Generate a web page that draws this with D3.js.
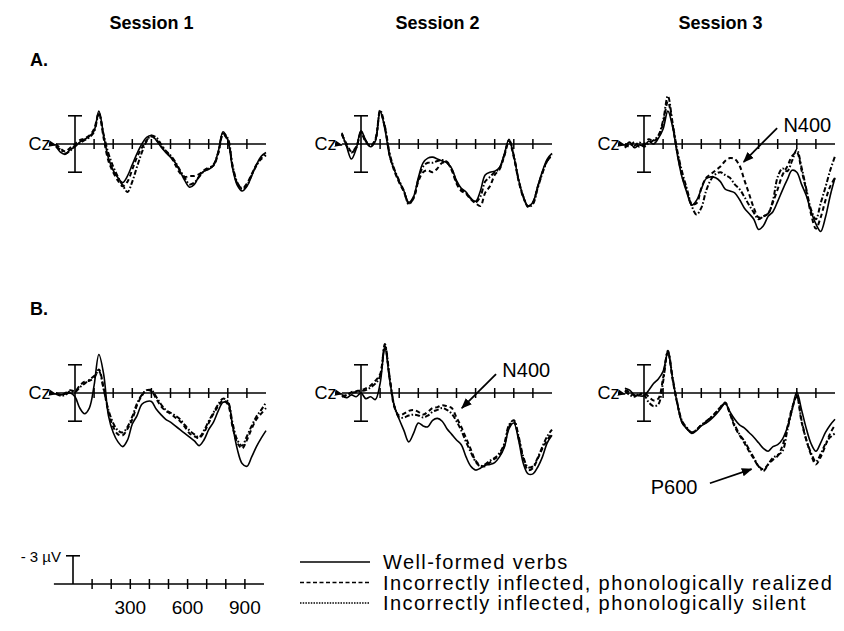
<!DOCTYPE html>
<html>
<head>
<meta charset="utf-8">
<script src="https://cdn.jsdelivr.net/npm/d3@7"></script>
<style>
  body { margin: 0; background: #fff; }
  svg { display: block; font-family: 'Liberation Sans', Arial, sans-serif; }
</style>
</head>
<body>
<div id="chart"></div>
<script>
// column titles, row labels and the three conditions
const sessions = ['Session 1', 'Session 2', 'Session 3'];
const rowLabels = ['A.', 'B.'];
const conditions = [
  'Well-formed verbs',
  'Incorrectly inflected, phonologically realized',
  'Incorrectly inflected, phonologically silent',
];

// sample times in ms (shared by every waveform)
const times = [
  -100, -75, -50, -25, 0, 25, 50, 75, 100, 125, 150, 175, 200, 225, 250,
  275, 300, 325, 350, 375, 400, 425, 450, 475, 500, 525, 550, 575, 600,
  625, 650, 675, 700, 725, 750, 775, 800, 825, 850, 875, 900, 925, 950,
  975, 1000,
];

// amplitudes in microvolts, negative plotted up
// Row A, Session 1
const a1Well = [0.2, 0.9, 1.1, 0.6, 0.3, -0.2, -0.5, -0.8, -1.4, -3.5, -0.9, 1.5, 2.8, 3.6, 4.1, 3.4, 2.2, 1.0, 0.0, -0.7, -0.9, -0.4, 0.3, 0.9, 1.4, 2.0, 2.9, 3.9, 4.6, 4.3, 3.4, 2.9, 2.7, 2.3, 0.8, -1.3, -0.4, 2.6, 4.4, 5.0, 4.5, 3.4, 2.2, 1.3, 0.9];
const a1Realized = [0.0, 0.5, 0.8, 0.4, 0.0, -0.4, -0.6, -0.9, -1.6, -3.3, -0.6, 1.8, 3.0, 3.9, 4.5, 4.0, 2.7, 1.4, 0.4, -0.4, -0.8, -0.5, 0.2, 0.8, 1.3, 2.2, 3.1, 3.5, 3.4, 3.4, 3.2, 2.8, 2.5, 2.3, 1.0, -1.0, -0.4, 2.4, 4.2, 4.7, 4.2, 3.2, 2.2, 1.6, 1.2];
const a1Silent = [0.3, 0.6, 1.0, 0.7, 0.2, -0.1, -0.4, -0.7, -1.3, -3.2, -1.0, 1.0, 2.4, 3.5, 4.4, 5.1, 4.0, 2.4, 0.9, -0.3, -0.9, -0.7, 0.0, 0.7, 1.2, 1.9, 2.8, 3.6, 4.3, 4.1, 3.5, 2.9, 2.6, 2.2, 0.9, -1.1, -0.6, 2.3, 4.1, 4.8, 4.4, 3.3, 2.3, 1.5, 1.0];
// Row A, Session 2
const a2Well = [-1.2, 0.3, 1.6, 0.5, -1.4, -0.4, 0.3, -0.3, -3.5, -1.6, 1.3, 2.8, 4.0, 5.0, 6.2, 5.6, 3.6, 2.0, 1.5, 1.4, 1.6, 1.8, 2.0, 2.6, 3.9, 4.7, 5.1, 5.8, 6.1, 5.0, 3.3, 3.0, 2.9, 2.5, 1.1, -0.5, 1.3, 3.8, 5.6, 6.6, 6.2, 4.5, 2.9, 1.6, 1.0];
const a2Realized = [-1.0, 0.0, 0.8, 0.3, -1.2, -0.2, 0.2, -0.5, -3.4, -1.8, 1.2, 2.9, 4.1, 5.1, 6.3, 5.8, 4.0, 3.0, 2.8, 3.0, 2.6, 2.0, 2.0, 2.8, 4.2, 5.0, 5.3, 5.9, 6.3, 6.6, 5.2, 4.5, 3.3, 2.7, 1.3, -0.3, 1.4, 3.9, 5.7, 6.6, 6.2, 4.6, 3.0, 1.8, 1.2];
const a2Silent = [-1.1, 0.2, 0.9, 0.4, -1.3, -0.3, 0.2, -0.4, -3.6, -1.9, 1.0, 2.7, 3.9, 5.0, 6.4, 5.7, 3.8, 2.4, 2.0, 2.0, 1.8, 1.7, 1.9, 2.7, 4.0, 4.8, 5.2, 5.8, 6.2, 5.6, 4.0, 3.5, 3.0, 2.6, 1.2, -0.4, 1.2, 3.8, 5.6, 6.7, 6.4, 4.7, 3.1, 1.8, 1.1];
// Row A, Session 3
const a3Well = [0.3, -0.2, 0.4, 0.1, 0.2, -0.3, 0.0, -0.6, -1.6, -3.5, -1.8, 1.2, 3.6, 5.2, 6.5, 6.0, 4.8, 3.7, 3.5, 3.6, 4.0, 4.8, 5.0, 5.2, 5.9, 6.8, 7.4, 8.0, 9.1, 8.7, 7.7, 7.2, 6.1, 4.9, 3.8, 2.8, 3.0, 4.3, 5.5, 7.2, 8.5, 9.3, 7.8, 5.5, 3.6];
const a3Realized = [0.0, 0.3, -0.2, 0.3, 0.0, -0.5, -0.3, -0.8, -2.2, -4.5, -2.0, 1.0, 3.4, 5.0, 6.4, 6.3, 4.7, 3.6, 3.2, 2.8, 2.4, 1.8, 1.5, 1.6, 2.3, 3.8, 5.3, 6.8, 7.8, 7.7, 7.4, 6.2, 4.8, 3.3, 2.4, 1.3, 0.9, 2.8, 5.0, 7.5, 9.0, 7.8, 6.0, 4.5, 3.6];
const a3Silent = [0.4, 0.0, 0.2, -0.2, 0.3, -0.1, -0.4, -0.9, -2.5, -5.1, -2.2, 0.8, 3.0, 4.8, 6.6, 7.5, 6.8, 5.0, 3.8, 3.2, 3.0, 3.3, 3.6, 4.3, 4.8, 5.6, 6.5, 7.3, 8.0, 7.7, 7.4, 6.0, 3.5, 2.6, 2.9, 1.8, 0.6, 2.5, 4.8, 7.0, 8.0, 6.3, 4.6, 2.8, 1.3];
// Row B, Session 1
const b1Well = [0.0, 0.2, 0.1, 0.0, 0.4, 1.6, 2.2, 1.6, -0.8, -4.1, -2.0, 2.4, 4.2, 5.2, 5.7, 5.0, 3.3, 2.4, 1.2, 0.9, 0.9, 1.7, 2.3, 2.8, 3.1, 3.5, 3.9, 4.3, 4.7, 5.1, 5.6, 5.0, 3.9, 3.1, 1.9, 1.0, 1.0, 3.5, 6.0, 7.5, 7.8, 6.8, 5.7, 4.8, 4.0];
const b1Realized = [0.0, 0.2, 0.0, -0.3, -0.2, -0.8, -1.2, -1.3, -1.6, -2.5, -0.5, 2.0, 3.6, 4.4, 4.5, 3.8, 2.8, 1.3, 0.3, -0.3, -0.2, 0.6, 1.4, 1.9, 2.2, 2.6, 3.0, 3.6, 4.3, 4.6, 4.8, 4.2, 3.2, 2.2, 1.4, 0.8, 1.2, 3.6, 5.3, 5.9, 5.0, 3.8, 2.8, 2.2, 1.6];
const b1Silent = [0.1, 0.3, 0.2, -0.2, -0.1, -0.6, -1.0, -1.4, -1.8, -2.3, -0.4, 1.8, 3.2, 4.0, 4.2, 3.6, 2.5, 1.1, 0.2, -0.3, -0.3, 0.4, 1.2, 1.8, 2.1, 2.4, 2.8, 3.4, 4.0, 4.4, 4.7, 4.0, 3.0, 2.1, 1.2, 0.6, 0.9, 3.2, 5.0, 5.6, 4.6, 3.5, 2.5, 1.8, 1.0];
// Row B, Session 2
const b2Well = [0.3, 0.5, 0.2, 0.4, 0.0, 0.6, 0.4, 0.7, -1.0, -4.8, -1.4, 1.4, 2.8, 4.0, 5.2, 4.3, 3.2, 3.5, 3.6, 2.9, 2.7, 3.0, 3.8, 4.4, 5.0, 5.5, 6.8, 7.8, 8.2, 8.0, 7.7, 7.6, 7.4, 6.8, 5.8, 3.8, 3.2, 5.0, 7.5, 8.6, 8.6, 7.9, 6.8, 5.3, 4.5];
const b2Realized = [0.2, 0.3, -0.1, -0.2, -0.3, -0.5, -0.8, -1.3, -2.0, -5.0, -1.6, 1.5, 2.4, 2.2, 1.9, 1.8, 2.0, 2.3, 2.0, 1.6, 1.5, 1.3, 1.4, 1.6, 2.6, 3.6, 4.8, 6.0, 7.2, 7.7, 7.8, 7.4, 7.0, 6.6, 5.6, 3.6, 3.0, 4.8, 7.0, 8.2, 8.0, 7.0, 5.9, 5.0, 4.3];
const b2Silent = [0.4, 0.2, 0.0, -0.1, -0.2, -0.3, -0.6, -1.0, -1.8, -5.2, -1.7, 1.4, 2.6, 2.6, 2.4, 2.3, 2.4, 2.6, 2.4, 2.0, 1.8, 1.6, 1.8, 2.2, 3.0, 4.0, 5.2, 6.3, 7.3, 7.8, 7.6, 7.2, 6.9, 6.4, 5.4, 3.4, 2.9, 4.6, 6.8, 7.9, 7.8, 6.9, 5.7, 4.6, 3.9];
// Row B, Session 3
const b3Well = [-0.5, -0.3, 0.2, 0.3, 0.3, -0.3, -1.0, -1.5, -2.3, -4.3, -1.5, 1.2, 3.2, 3.8, 4.3, 4.0, 3.5, 3.2, 2.8, 2.3, 1.7, 1.1, 2.0, 2.8, 3.4, 3.7, 4.2, 4.7, 5.3, 5.9, 6.2, 5.7, 5.5, 4.9, 3.7, 1.8, -0.1, 1.8, 3.8, 5.4, 6.2, 5.3, 4.2, 3.4, 2.8];
const b3Realized = [-0.3, -0.1, 0.3, 0.2, 0.0, 0.4, 0.8, 0.6, -1.6, -4.4, -1.4, 1.2, 3.1, 3.8, 4.2, 3.9, 3.4, 3.1, 2.6, 2.1, 1.5, 1.0, 2.2, 3.6, 4.5, 5.3, 6.2, 7.0, 7.8, 8.1, 7.6, 7.1, 6.7, 5.6, 3.7, 1.6, 0.4, 3.1, 5.0, 6.6, 7.6, 6.8, 5.6, 4.3, 3.4];
const b3Silent = [-0.2, 0.2, 0.4, 0.1, 0.2, 1.0, 1.4, 1.2, -1.2, -4.5, -1.6, 1.1, 3.0, 3.7, 4.2, 3.9, 3.4, 3.0, 2.6, 2.1, 1.5, 1.1, 2.2, 3.4, 4.4, 5.1, 6.0, 6.9, 7.8, 8.3, 7.6, 6.9, 6.6, 6.2, 4.0, 1.8, 0.3, 2.9, 5.0, 6.4, 7.3, 6.5, 5.4, 4.7, 4.3];

// axis ticks (ms) and the labelled ones on the calibration axis
const tickTimes = [100, 200, 300, 400, 500, 600, 700, 800, 900];
const tickLabels = [300, 600, 900];

// component annotations: label text, arrow start and tip in (ms, µV)
const annotations = [
  { row: 0, col: 2, text: 'N400', labelT: 730, labelV: -2.0, fromT: 697, fromV: -1.7, toT: 522, toV: 1.9 },
  { row: 1, col: 1, text: 'N400', labelT: 740, labelV: -2.4, fromT: 707, fromV: -2.0, toT: 528, toV: 1.6 },
  { row: 1, col: 2, text: 'P600', labelT: 35, labelV: 10.0, fromT: 345, fromV: 9.6, toT: 563, toV: 8.1 },
];

const waves = [
  [[a1Well, a1Realized, a1Silent], [a2Well, a2Realized, a2Silent], [a3Well, a3Realized, a3Silent]],
  [[b1Well, b1Realized, b1Silent], [b2Well, b2Realized, b2Silent], [b3Well, b3Realized, b3Silent]],
];

class ErpFigure {
  constructor(_config) {
    this.config = {
      parentElement: _config.parentElement,
      containerWidth: 844,
      containerHeight: 631,
      colZero: [75, 361, 644], // x of 0 ms in each column
      rowBase: [144, 393], // y of 0 µV in each row
      msWidth: 191, // px for 1000 ms
      uvHeight: 28.2, // px for 3 µV
    };
    this.initVis();
  }

  initVis() {
    const vis = this;
    const c = vis.config;

    vis.svg = d3
      .select(c.parentElement)
      .append('svg')
      .attr('width', c.containerWidth)
      .attr('height', c.containerHeight);

    vis.svg.append('rect').attr('width', c.containerWidth).attr('height', c.containerHeight).attr('fill', '#fff');

    // arrowhead for the Cz pointers and annotations
    vis.svg
      .append('defs')
      .append('marker')
      .attr('id', 'head')
      .attr('viewBox', '0 0 10 10')
      .attr('refX', 9)
      .attr('refY', 5)
      .attr('markerWidth', 6)
      .attr('markerHeight', 6)
      .attr('orient', 'auto')
      .append('path')
      .attr('d', 'M0,1 L10,5 L0,9 z')
      .attr('fill', '#000');

    vis.x = d3.scaleLinear().domain([0, 1000]).range([0, c.msWidth]);
    vis.y = d3.scaleLinear().domain([-3, 3]).range([-c.uvHeight, c.uvHeight]);

    vis.line = d3
      .line()
      .x((d) => vis.x(d[0]))
      .y((d) => vis.y(d[1]))
      .curve(d3.curveCatmullRom.alpha(0.5));

    vis.dashes = [null, '4.5,3', '5,2,1.6,2'];

    vis.renderVis();
  }

  renderVis() {
    const vis = this;
    const c = vis.config;

    // session titles
    vis.svg
      .selectAll('.session')
      .data(sessions)
      .join('text')
      .attr('class', 'session')
      .attr('x', (d, i) => c.colZero[i] + vis.x(400))
      .attr('y', 29)
      .attr('text-anchor', 'middle')
      .attr('font-size', 18)
      .attr('font-weight', 'bold')
      .text((d) => d);

    vis.svg
      .selectAll('.row-label')
      .data(rowLabels)
      .join('text')
      .attr('class', 'row-label')
      .attr('x', 30)
      .attr('y', (d, i) => c.rowBase[i] - 78)
      .attr('font-size', 18)
      .attr('font-weight', 'bold')
      .text((d) => d);

    waves.forEach((rowWaves, r) => {
      rowWaves.forEach((panelWaves, col) => {
        const g = vis.svg
          .append('g')
          .attr('transform', `translate(${c.colZero[col]},${c.rowBase[r]})`);
        vis.drawAxes(g);

        // Cz label with a short arrow
        g.append('text')
          .attr('x', vis.x(-128))
          .attr('y', 6)
          .attr('text-anchor', 'end')
          .attr('font-size', 18)
          .text('Cz');
        g.append('path')
          .attr('d', `M${vis.x(-126)},0 L${vis.x(-100)},1`)
          .attr('stroke', '#000')
          .attr('stroke-width', 1.3)
          .attr('marker-end', 'url(#head)');

        panelWaves.forEach((vals, k) => {
          g.append('path')
            .datum(times.map((t, i) => [t, vals[i]]))
            .attr('fill', 'none')
            .attr('stroke', '#000')
            .attr('stroke-width', k === 0 ? 1.6 : 2)
            .attr('stroke-dasharray', vis.dashes[k])
            .attr('d', vis.line);
        });
      });
    });

    annotations.forEach((a) => {
      const g = vis.svg
        .append('g')
        .attr('transform', `translate(${c.colZero[a.col]},${c.rowBase[a.row]})`);
      g.append('text')
        .attr('x', vis.x(a.labelT))
        .attr('y', vis.y(a.labelV) + 7)
        .attr('font-size', 20)
        .text(a.text);
      g.append('line')
        .attr('x1', vis.x(a.fromT))
        .attr('y1', vis.y(a.fromV))
        .attr('x2', vis.x(a.toT))
        .attr('y2', vis.y(a.toV))
        .attr('stroke', '#000')
        .attr('stroke-width', 1.8)
        .attr('marker-end', 'url(#head)');
    });

    vis.drawCalibration();
    vis.drawLegend();
  }

  drawAxes(g) {
    const vis = this;
    g.append('line')
      .attr('x1', vis.x(-100))
      .attr('x2', vis.x(1000))
      .attr('stroke', '#000')
      .attr('stroke-width', 1.6);
    g.selectAll('.tick')
      .data(tickTimes)
      .join('line')
      .attr('x1', (d) => vis.x(d))
      .attr('x2', (d) => vis.x(d))
      .attr('y1', -5)
      .attr('y2', 5)
      .attr('stroke', '#000')
      .attr('stroke-width', 1.5);
    // +/- 3 µV bar at stimulus onset
    const bar = [-3, 3];
    g.append('line')
      .attr('y1', vis.y(bar[0]))
      .attr('y2', vis.y(bar[1]))
      .attr('stroke', '#000')
      .attr('stroke-width', 1.6);
    g.selectAll('.cap')
      .data(bar)
      .join('line')
      .attr('x1', -7)
      .attr('x2', 7)
      .attr('y1', (d) => vis.y(d))
      .attr('y2', (d) => vis.y(d))
      .attr('stroke', '#000')
      .attr('stroke-width', 1.6);
  }

  drawCalibration() {
    const vis = this;
    const g = vis.svg.append('g').attr('transform', 'translate(73,584)');
    g.append('line')
      .attr('x1', vis.x(-100))
      .attr('x2', vis.x(1000))
      .attr('stroke', '#000')
      .attr('stroke-width', 1.6);
    g.selectAll('.tick')
      .data(tickTimes)
      .join('line')
      .attr('x1', (d) => vis.x(d))
      .attr('x2', (d) => vis.x(d))
      .attr('y1', -5)
      .attr('y2', 5)
      .attr('stroke', '#000')
      .attr('stroke-width', 1.5);
    g.append('line')
      .attr('y1', vis.y(-3))
      .attr('y2', 0)
      .attr('stroke', '#000')
      .attr('stroke-width', 1.6);
    g.append('line')
      .attr('x1', -7)
      .attr('x2', 7)
      .attr('y1', vis.y(-3))
      .attr('y2', vis.y(-3))
      .attr('stroke', '#000')
      .attr('stroke-width', 1.6);
    g.append('text')
      .attr('x', -12)
      .attr('y', vis.y(-3) + 6)
      .attr('text-anchor', 'end')
      .attr('font-size', 15)
      .text('- 3 µV');
    g.selectAll('.lab')
      .data(tickLabels)
      .join('text')
      .attr('x', (d) => vis.x(d))
      .attr('y', 30)
      .attr('text-anchor', 'middle')
      .attr('font-size', 19)
      .text((d) => d);
  }

  drawLegend() {
    const vis = this;
    const legendDashes = [null, '4,2.5', '1.5,1.2'];
    const g = vis.svg.append('g').attr('transform', 'translate(300,562)');
    const item = g
      .selectAll('.item')
      .data(conditions)
      .join('g')
      .attr('transform', (d, i) => `translate(0,${i * 20.5})`);
    item
      .append('line')
      .attr('x2', 70)
      .attr('stroke', '#000')
      .attr('stroke-width', 1.5)
      .attr('stroke-dasharray', (d, i) => legendDashes[i]);
    item
      .append('text')
      .attr('x', 83)
      .attr('y', 7)
      .attr('font-size', 20)
      .attr('letter-spacing', 1.4)
      .text((d) => d);
  }
}

new ErpFigure({ parentElement: '#chart' });
</script>
</body>
</html>
